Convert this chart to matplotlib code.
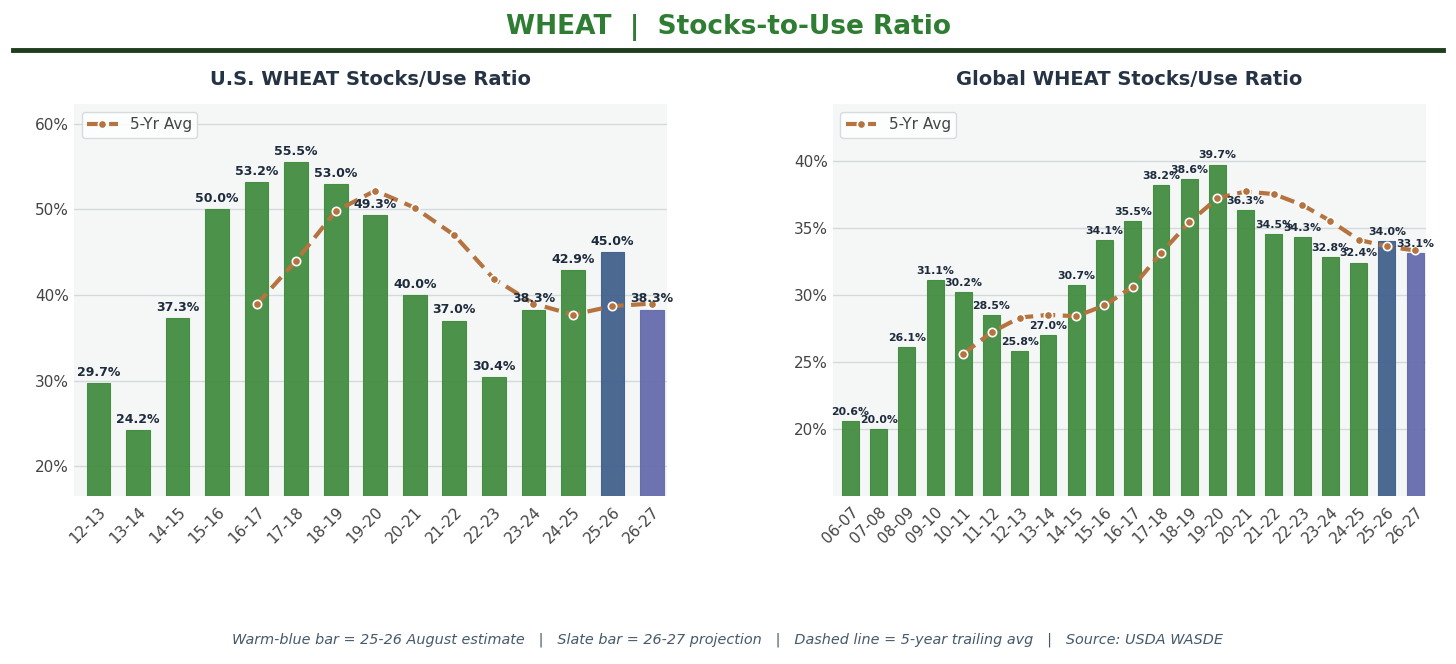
#!/usr/bin/env python3
"""
Wheat stocks-to-use ratio: U.S. vs global, with 5-year trailing average.
"""

import matplotlib
matplotlib.use('Agg')
import matplotlib.pyplot as plt
from matplotlib.ticker import FuncFormatter

# U.S. data
us_years = ['12-13', '13-14', '14-15', '15-16', '16-17', '17-18', '18-19', '19-20',
            '20-21', '21-22', '22-23', '23-24', '24-25', '25-26', '26-27']
us_ratio = [29.7, 24.2, 37.3, 50.0, 53.2, 55.5, 53.0, 49.3, 40.0, 37.0, 30.4, 38.3,
            42.9, 45.0, 38.3]
us_avg_years = us_years[4:]
us_avg = [38.9, 44.0, 49.8, 52.2, 50.2, 47.0, 41.9, 39.0, 37.7, 38.7, 39.0]

# Global data
gl_years = ['06-07', '07-08', '08-09', '09-10', '10-11', '11-12', '12-13', '13-14',
            '14-15', '15-16', '16-17', '17-18', '18-19', '19-20', '20-21', '21-22',
            '22-23', '23-24', '24-25', '25-26', '26-27']
gl_ratio = [20.6, 20.0, 26.1, 31.1, 30.2, 28.5, 25.8, 27.0, 30.7, 34.1, 35.5, 38.2,
            38.6, 39.7, 36.3, 34.5, 34.3, 32.8, 32.4, 34.0, 33.1]
gl_avg_years = gl_years[4:]
gl_avg = [25.6, 27.2, 28.3, 28.5, 28.4, 29.2, 30.6, 33.1, 35.4, 37.2, 37.7, 37.5,
          36.7, 35.5, 34.1, 33.6, 33.3]

GREEN = '#3f8a3b'
EST_BLUE = '#3d5d8a'
SLATE = '#6168ab'
AVG_COLOR = '#b5733f'
LABEL_COLOR = '#1e2b3c'


def draw_panel(ax, years, ratio, avg_years, avg, label_size, ylim, yticks):
    colors = [GREEN] * (len(years) - 2) + [EST_BLUE, SLATE]
    x = list(range(len(years)))
    ax.set_facecolor('#f5f7f7')
    ax.bar(x, ratio, width=0.6, color=colors, alpha=0.92,
           edgecolor=[c for c in colors], linewidth=0.8, zorder=2)

    for xi, v in zip(x, ratio):
        ax.annotate(f"{v:.1f}%", (xi, v), xytext=(0, 3), textcoords='offset points',
                    ha='center', va='bottom', fontsize=label_size,
                    fontweight='bold', color=LABEL_COLOR, zorder=5)

    avg_x = [years.index(y) for y in avg_years]
    ax.plot(avg_x, avg, linestyle=(0, (3.5, 1.8)), color=AVG_COLOR, linewidth=3,
            marker='o', markersize=6, markerfacecolor=AVG_COLOR,
            markeredgecolor='white', markeredgewidth=1.2, label='5-Yr Avg', zorder=4)

    ax.set_ylim(*ylim)
    ax.set_yticks(yticks)
    ax.yaxis.set_major_formatter(FuncFormatter(lambda v, p: f"{v:.0f}%"))
    ax.set_xticks(x)
    ax.set_xticklabels(years, rotation=45, ha='right', rotation_mode='anchor')
    ax.set_xlim(-0.62, len(years) - 0.62)
    ax.tick_params(axis='both', length=0, labelsize=11, colors='#444444')
    ax.tick_params(axis='x', pad=6)
    ax.grid(axis='y', color='#d5d9dc', linewidth=1, zorder=0)
    ax.set_axisbelow(True)
    for s in ax.spines.values():
        s.set_visible(False)
    leg = ax.legend(loc='upper left', fontsize=11, frameon=True, fancybox=True,
                    handlelength=2.0, borderpad=0.35)
    leg.get_frame().set_edgecolor('#cfd4d8')
    leg.get_frame().set_facecolor('white')
    for t in leg.get_texts():
        t.set_color('#444444')


def main():
    fig = plt.figure(figsize=(14.56, 6.64), dpi=100)
    fig.patch.set_facecolor('white')

    ax1 = fig.add_axes([0.0508, 0.253, 0.4073, 0.590])
    ax2 = fig.add_axes([0.572, 0.253, 0.4073, 0.590])

    draw_panel(ax1, us_years, us_ratio, us_avg_years, us_avg, 9,
               (16.5, 62.3), [20, 30, 40, 50, 60])
    draw_panel(ax2, gl_years, gl_ratio, gl_avg_years, gl_avg, 7.8,
               (15.0, 44.2), [20, 25, 30, 35, 40])

    fig.text(0.5, 0.959, "WHEAT  |  Stocks-to-Use Ratio", ha='center', va='center',
             fontsize=19, fontweight='bold', color='#2e7d32')
    fig.add_artist(plt.Line2D([0.009, 0.991], [0.925, 0.925], color='#1e3d1e',
                              linewidth=3.5, transform=fig.transFigure))
    ax1.set_title("U.S. WHEAT Stocks/Use Ratio", fontsize=14, fontweight='bold',
                  color='#253345', pad=14)
    ax2.set_title("Global WHEAT Stocks/Use Ratio", fontsize=14, fontweight='bold',
                  color='#253345', pad=14)

    fig.text(0.5, 0.036,
             "Warm-blue bar = 25-26 August estimate   |   Slate bar = 26-27 projection   |   "
             "Dashed line = 5-year trailing avg   |   Source: USDA WASDE",
             ha='center', va='center', fontsize=10.4, style='italic', color='#455a6b')

    fig.savefig('out.png', dpi=100)


if __name__ == '__main__':
    main()
